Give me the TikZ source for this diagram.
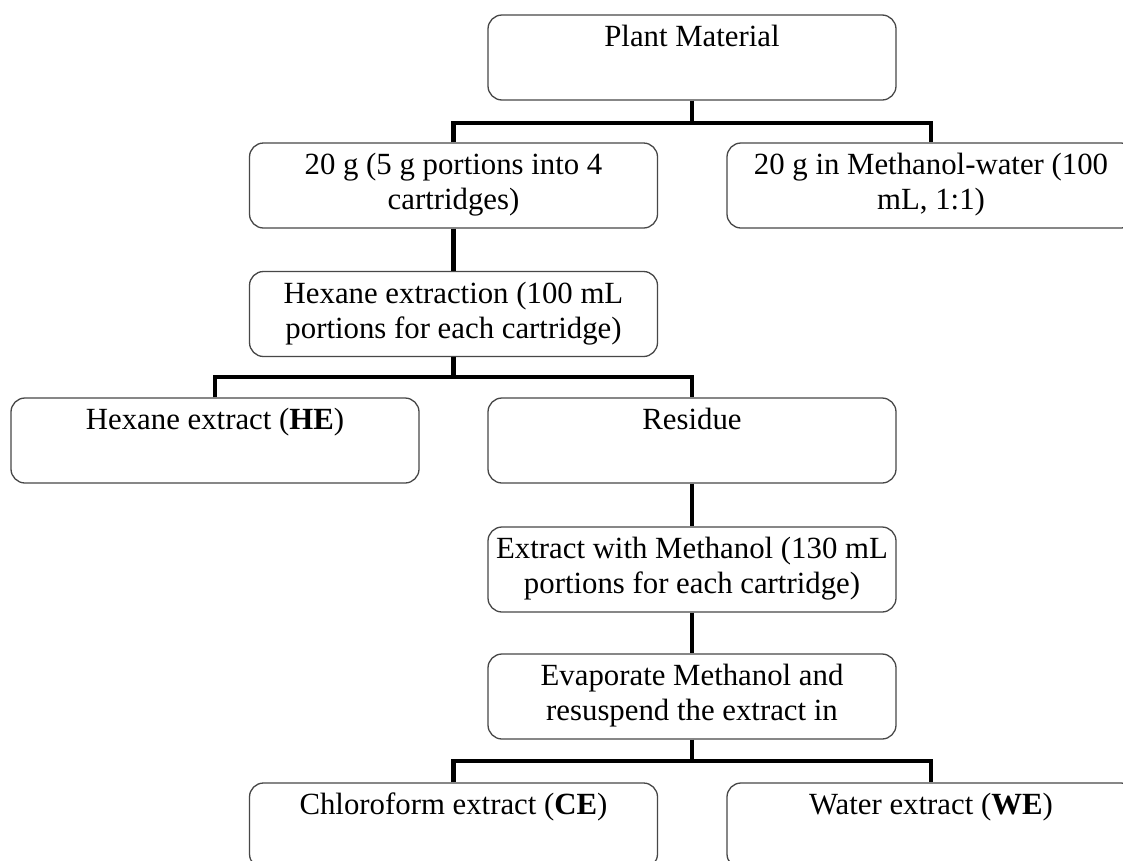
\documentclass[tikz,border=0pt]{standalone}
\usepackage{fontspec}
\setmainfont{Liberation Serif}
\usetikzlibrary{positioning}
\newcommand{\boxtxt}[1]{\parbox[c][85pt][t]{404pt}{\centering\vspace*{7pt}\strut #1\strut}}
\tikzset{
  stepbox/.style={draw=black!72, line width=1.3pt, rounded corners=14pt,
    inner xsep=2pt, inner ysep=0pt, fill=white,
    font=\fontsize{30.8pt}{35pt}\selectfont},
  conn/.style={line width=4.5pt, black, line join=miter}
}
\begin{document}
\begin{tikzpicture}[x=1pt,y=-1pt]
\useasboundingbox (0,0) rectangle (1123,860);
\fill[white] (0,0) rectangle (1123,860);
\clip (0,0) rectangle (1123,860);
% bus rows
\coordinate (bus1) at (0,123);
\coordinate (bus2) at (0,377);
\coordinate (bus3) at (0,761);
% boxes
\node[stepbox] (pm)  at (692,57.5)   {\boxtxt{Plant Material}};
\node[stepbox] (g20) at (453.5,185.5) {\boxtxt{20 g (5 g portions into 4\\cartridges)}};
\node[stepbox] (mw)  at (931,185.5)   {\boxtxt{20 g in Methanol-water (100\\mL, 1:1)}};
\node[stepbox] (hex) at (453.5,314)   {\boxtxt{Hexane extraction (100 mL\\portions for each cartridge)}};
\node[stepbox] (he)  at (215,440.5)   {\boxtxt{Hexane extract (\textbf{HE})}};
\node[stepbox] (res) at (692,440.5)   {\boxtxt{Residue}};
\node[stepbox] (em)  at (692,569.5)   {\boxtxt{Extract with Methanol (130 mL\\portions for each cartridge)}};
\node[stepbox] (ev)  at (692,696.5)   {\boxtxt{Evaporate Methanol and\\resuspend the extract in}};
\node[stepbox] (ce)  at (453.5,825.5) {\boxtxt{Chloroform extract (\textbf{CE})}};
\node[stepbox] (we)  at (931,825.5)   {\boxtxt{Water extract (\textbf{WE})}};
% connectors
\draw[conn] (pm.south) -- (pm.south |- bus1);
\draw[conn] (g20.north) |- (bus1 -| mw.north) -- (mw.north);
\draw[conn] (g20.south) -- (hex.north);
\draw[conn] (hex.south) -- (hex.south |- bus2);
\draw[conn] (he.north) |- (bus2 -| res.north) -- (res.north);
\draw[conn] (res.south) -- (em.north);
\draw[conn] (em.south) -- (ev.north);
\draw[conn] (ev.south) -- (ev.south |- bus3);
\draw[conn] (ce.north) |- (bus3 -| we.north) -- (we.north);
\end{tikzpicture}
\end{document}
